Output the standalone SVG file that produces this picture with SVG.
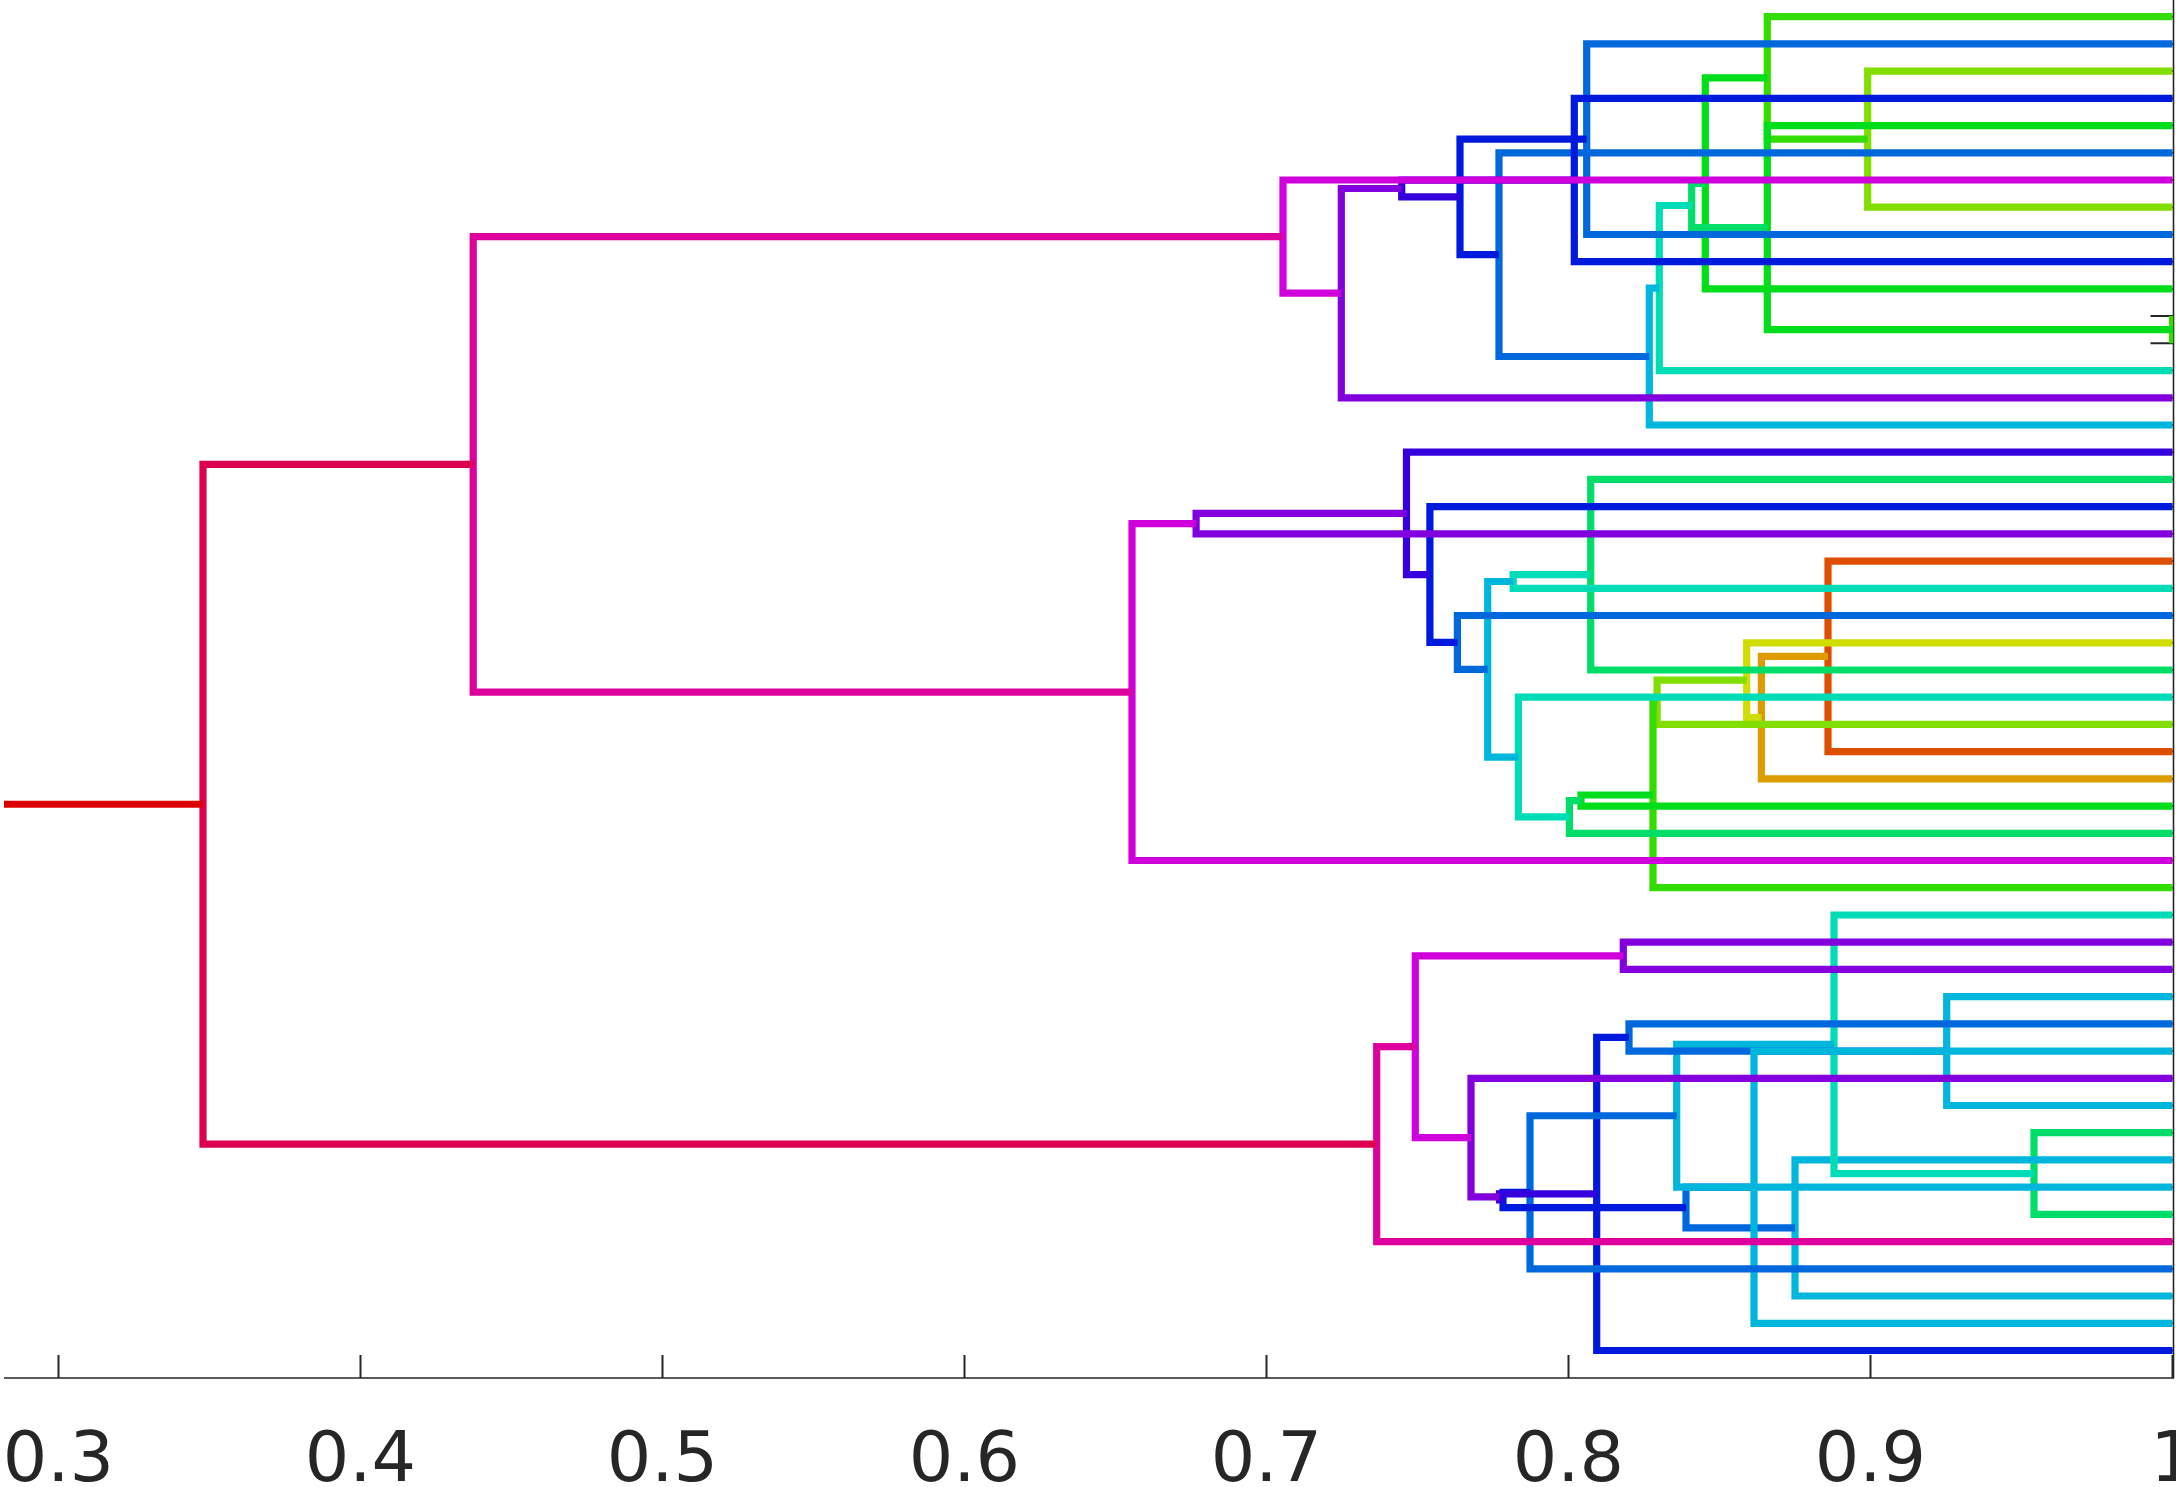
<svg xmlns="http://www.w3.org/2000/svg" width="2176" height="1487" viewBox="0 0 2176 1487">
<style>
.ln{fill:none;stroke-width:7.2;stroke-linejoin:miter;stroke-linecap:butt}
.ax{fill:none;stroke:#262626;stroke-width:1.6}
.tk{fill:none;stroke:#262626;stroke-width:2}
.lab{font-family:"DejaVu Sans","Liberation Sans",Arial,sans-serif;font-size:70px;fill:#262626;text-anchor:middle}
.k0{stroke:#dd0000}.k1{stroke:#dd4e00}.k2{stroke:#dd9c00}.k3{stroke:#d0dd00}.k4{stroke:#82dd00}
.k5{stroke:#34dd00}.k6{stroke:#00dd1a}.k7{stroke:#00dd68}.k8{stroke:#00ddb6}.k9{stroke:#00b6dd}
.k10{stroke:#0068dd}.k11{stroke:#001add}.k12{stroke:#3400dd}.k13{stroke:#8200dd}.k14{stroke:#d000dd}
.k15{stroke:#dd009c}.k16{stroke:#dd004e}
</style>
<defs>
<clipPath id="plot"><rect x="0" y="0" width="2173.3" height="1378"/></clipPath>
</defs>
<rect x="0" y="0" width="2176" height="1487" fill="#ffffff"/>
<g id="axis">
<path class="ax" d="M4 1378 H2174.2 M2173.5 0 V1378"/>
<path class="tk" d="M58.5 1378V1355 M360.5 1378V1355 M662.5 1378V1355 M964.5 1378V1355 M1266.5 1378V1355 M1568.5 1378V1355 M1870.5 1378V1355 M2172.5 1378V1355"/>
<path class="tk" d="M2150.5 16.7H2173.5 M2150.5 43.9H2173.5 M2150.5 71.1H2173.5 M2150.5 98.4H2173.5 M2150.5 125.6H2173.5 M2150.5 152.8H2173.5 M2150.5 180H2173.5 M2150.5 207.2H2173.5 M2150.5 234.5H2173.5 M2150.5 261.7H2173.5 M2150.5 288.9H2173.5 M2150.5 316.1H2173.5 M2150.5 343.3H2173.5 M2150.5 370.6H2173.5 M2150.5 397.8H2173.5 M2150.5 425H2173.5 M2150.5 452.2H2173.5 M2150.5 479.4H2173.5 M2150.5 506.7H2173.5 M2150.5 533.9H2173.5 M2150.5 561.1H2173.5 M2150.5 588.3H2173.5 M2150.5 615.5H2173.5 M2150.5 642.8H2173.5 M2150.5 670H2173.5 M2150.5 697.2H2173.5 M2150.5 724.4H2173.5 M2150.5 751.6H2173.5 M2150.5 778.9H2173.5 M2150.5 806.1H2173.5 M2150.5 833.3H2173.5 M2150.5 860.5H2173.5 M2150.5 887.7H2173.5 M2150.5 915H2173.5 M2150.5 942.2H2173.5 M2150.5 969.4H2173.5 M2150.5 996.6H2173.5 M2150.5 1023.8H2173.5 M2150.5 1051.1H2173.5 M2150.5 1078.3H2173.5 M2150.5 1105.5H2173.5 M2150.5 1132.7H2173.5 M2150.5 1159.9H2173.5 M2150.5 1187.2H2173.5 M2150.5 1214.4H2173.5 M2150.5 1241.6H2173.5 M2150.5 1268.8H2173.5 M2150.5 1296H2173.5 M2150.5 1323.3H2173.5 M2150.5 1350.5H2173.5"/>
<text class="lab" x="58.5" y="1481">0.3</text>
<text class="lab" x="360.5" y="1481">0.4</text>
<text class="lab" x="662.5" y="1481">0.5</text>
<text class="lab" x="964.5" y="1481">0.6</text>
<text class="lab" x="1266.5" y="1481">0.7</text>
<text class="lab" x="1568.5" y="1481">0.8</text>
<text class="lab" x="1870.5" y="1481">0.9</text>
<text class="lab" x="2172.5" y="1481">1</text>
</g>
<g id="connectors" clip-path="url(#plot)">
<path id="Q" class="ln k5" d="M2172.5 316.1V343.3"/>
<path id="G" class="ln k4" d="M2172.5 71.1H1867.7V207.2H2172.5"/>
<path id="H" class="ln k5" d="M2172.5 16.7H1767.3V139.15H1867.7"/>
<path id="J" class="ln k6" d="M2172.5 125.6H1767.3V329.7H2172.5"/>
<path id="I" class="ln k6" d="M1767.3 77.9H1705.3V288.9H2172.5"/>
<path id="K" class="ln k7" d="M1705.3 183.4H1691.7V227.65H1767.3"/>
<path id="L" class="ln k8" d="M1691.7 205.5H1659.3V370.6H2172.5"/>
<path id="M" class="ln k9" d="M1659.3 288.05H1649.3V425H2172.5"/>
<path id="N" class="ln k10" d="M2172.5 152.8H1499V356.5H1649.3"/>
<path id="P" class="ln k10" d="M2172.5 43.9H1586.7V234.5H2172.5"/>
<path id="F" class="ln k11" d="M2172.5 98.4H1574.3V261.7H2172.5"/>
<path id="E" class="ln k11" d="M1586.7 139.2H1460V254.65H1499"/>
<path id="D" class="ln k12" d="M1574.3 180.05H1401.7V196.9H1460"/>
<path id="C" class="ln k13" d="M1401.7 188.5H1341.3V397.8H2172.5"/>
<path id="B" class="ln k14" d="M2172.5 180H1283V293.15H1341.3"/>
<path id="FF" class="ln k1" d="M2172.5 561.1H1828V751.6H2172.5"/>
<path id="EE" class="ln k2" d="M1828 656.35H1761.4V778.9H2172.5"/>
<path id="DD" class="ln k3" d="M2172.5 642.8H1746.7V717.6H1761.4"/>
<path id="CC" class="ln k4" d="M1746.7 680.2H1657.1V724.4H2172.5"/>
<path id="BB" class="ln k5" d="M1657.1 702.3H1653V887.7H2172.5"/>
<path id="AA" class="ln k6" d="M1653 795H1581V806.1H2172.5"/>
<path id="Y" class="ln k7" d="M2172.5 479.4H1590.7V670H2172.5"/>
<path id="Z" class="ln k7" d="M1581 800.55H1569.4V833.3H2172.5"/>
<path id="X" class="ln k8" d="M2172.5 697.2H1518.4V816.9H1569.4"/>
<path id="W" class="ln k8" d="M1590.7 574.7H1513.2V588.3H2172.5"/>
<path id="V" class="ln k9" d="M1513.2 581.5H1487.7V757.05H1518.4"/>
<path id="U" class="ln k10" d="M2172.5 615.5H1457.4V669.3H1487.7"/>
<path id="T" class="ln k11" d="M2172.5 506.7H1429.9V642.4H1457.4"/>
<path id="S" class="ln k12" d="M2172.5 452.2H1406.5V574.55H1429.9"/>
<path id="R" class="ln k13" d="M1406.5 513.4H1196.1V533.9H2172.5"/>
<path id="MM" class="ln k14" d="M1196.1 523.65H1132V860.5H2172.5"/>
<path id="RR" class="ln k7" d="M2172.5 1132.7H2034V1214.4H2172.5"/>
<path id="TT" class="ln k9" d="M2172.5 996.6H1946.7V1105.5H2172.5"/>
<path id="VV" class="ln k9" d="M2172.5 1159.9H1795V1296H2172.5"/>
<path id="QQ" class="ln k8" d="M2172.5 915H1834V1173.55H2034"/>
<path id="KK" class="ln k10" d="M1754 1187.2H1686V1227.95H1795"/>
<path id="SS" class="ln k9" d="M1834 1044.3H1676.7V1187.2H2172.5"/>
<path id="HH" class="ln k10" d="M2172.5 1023.8H1629V1051.05H1946.7"/>
<path id="UU" class="ln k9" d="M2172.5 1051.1H1754V1323.3H2172.5"/>
<path id="GG" class="ln k13" d="M2172.5 942.2H1623.3V969.4H2172.5"/>
<path id="II" class="ln k11" d="M1629 1037.4H1596.7V1350.5H2172.5"/>
<path id="WW" class="ln k10" d="M1676.7 1115.75H1530V1268.8H2172.5"/>
<path id="XX" class="ln k11" d="M1530 1192.3H1503V1207.6H1686"/>
<path id="YY" class="ln k12" d="M1596.7 1193.95H1499.5V1199.95H1503"/>
<path id="OO" class="ln k13" d="M2172.5 1078.3H1471V1196.95H1499.5"/>
<path id="NN" class="ln k14" d="M1623.3 955.8H1415.3V1137.6H1471"/>
<path id="LL" class="ln k15" d="M1415.3 1046.7H1376.7V1241.6H2172.5"/>
<path id="A" class="ln k15" d="M1283 236.6H473.2V692.1H1132"/>
<path id="ROOT" class="ln k16" d="M473.2 464.35H203V1144.15H1376.7"/>
<path id="STUB" class="ln k0" d="M4 804.25H203"/>
</g>
</svg>
